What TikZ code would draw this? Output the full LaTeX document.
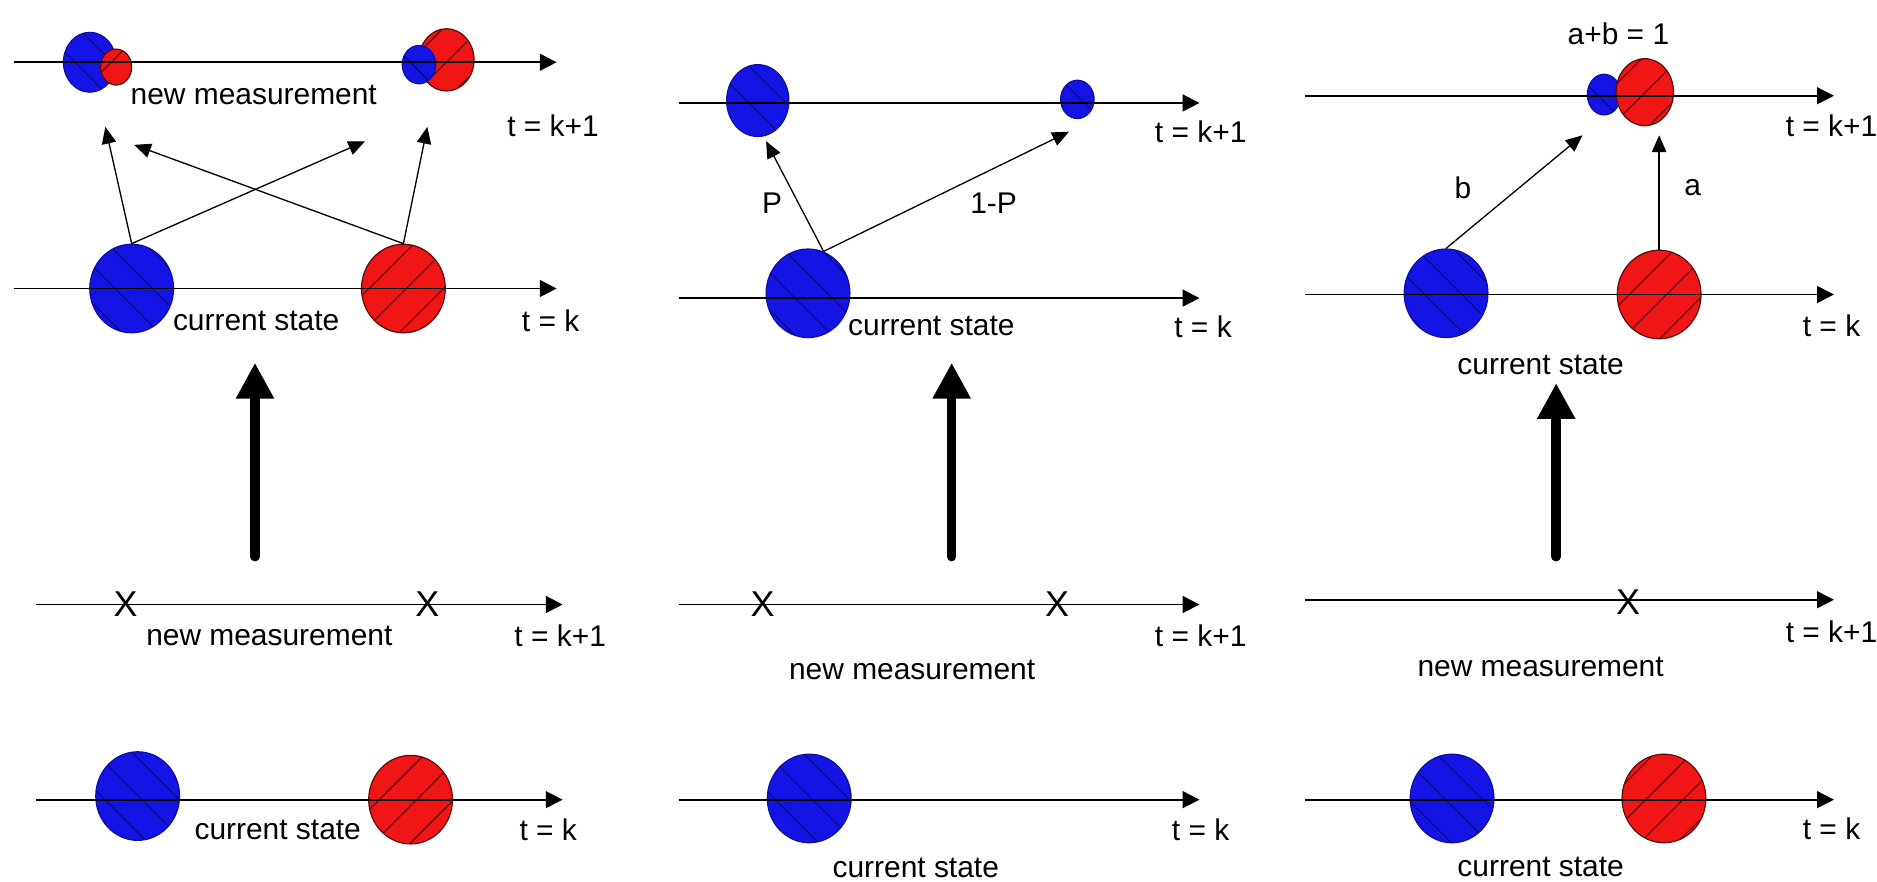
\documentclass[tikz,border=0pt]{standalone}
\usepackage{fontspec}
\setmainfont{Liberation Sans}
\usetikzlibrary{arrows.meta,shapes.geometric,patterns.meta}
\definecolor{bl}{RGB}{20,20,228}
\definecolor{bldk}{RGB}{10,10,120}
\definecolor{rd}{RGB}{240,22,22}
\definecolor{rddk}{RGB}{90,10,10}
\begin{document}
\begin{tikzpicture}[x=0.5pt,y=-0.5pt,
  axis/.style={line width=0.8pt,-{Triangle[length=7pt,width=7pt]}},
  conn/.style={line width=0.55pt,-{Triangle[length=7pt,width=6pt]}},
  bigarrow/.style={line width=4pt,line cap=round,-{Triangle[length=15pt,width=15pt]}},
  sz/.style 2 args={minimum width=#1pt,minimum height=#2pt},
  bc/.style={ellipse,inner sep=0pt,draw=bldk!60!bl,line width=0.5pt,fill=bl,
    postaction={pattern={Lines[angle=-45,distance=11pt,line width=0.45pt]},pattern color=bldk}},
  rc/.style={ellipse,inner sep=0pt,draw=rddk,line width=0.5pt,fill=rd,
    postaction={pattern={Lines[angle=45,distance=11pt,line width=0.45pt]},pattern color=rddk}},
  lab/.style={font=\fontsize{12.5}{14}\selectfont,inner sep=0pt},
  xm/.style={font=\fontsize{15}{16}\selectfont,inner sep=0pt}]
\useasboundingbox (0,0) rectangle (1568,736);

% ================= Panel 1 =================
% upper: t = k+1 with predicted states
\node[bc,sz={22}{25}] (p1ub1) at (75,52) {};
\node[rc,sz={13}{15}] (p1ur1) at (97,56) {};
\node[rc,sz={23}{26}] (p1ur2) at (373,50) {};
\node[bc,sz={14}{16}] (p1ub2) at (350,54) {};
\coordinate (p1a0) at (12,52);  \coordinate (p1a1) at (465,52);
\draw[axis] (p1a0) -- (p1a1);
\node[lab] (p1t1) at (462,105) {t = k+1};
\node[lab] (p1nm) at (212,79) {new measurement};
% current state
\node[bc,sz={35}{37}] (p1b) at (110,241) {};
\node[rc,sz={35}{37}] (p1r) at (337,241) {};
\coordinate (p1b0) at (12,241); \coordinate (p1b1) at (465,241);
\draw[axis] (p1b0) -- (p1b1);
\node[lab] (p1t0) at (460,268) {t = k};
\node[lab] (p1cs) at (214,268) {current state};
% transitions
\coordinate (p1e1) at (88,106);
\coordinate (p1e2) at (305,118);
\coordinate (p1e3) at (112,121);
\coordinate (p1e4) at (357,106);
\draw[conn] (p1b.north) -- (p1e1);
\draw[conn] (p1b.north) -- (p1e2);
\draw[conn] (p1r.north) -- (p1e3);
\draw[conn] (p1r.north) -- (p1e4);
% big arrow
\coordinate (p1s) at (213,465); \coordinate (p1f) at (213,303);
\draw[bigarrow] (p1s) -- (p1f);
% lower: measurement
\coordinate (p1m0) at (30,505); \coordinate (p1m1) at (470,505);
\draw[axis] (p1m0) -- (p1m1);
\node[xm] (p1x1) at (105,505) {X};
\node[xm] (p1x2) at (357,505) {X};
\node[lab] (p1mn) at (225,531) {new measurement};
\node[lab] (p1mt) at (468,531) {t = k+1};
% lower: current state
\node[bc,sz={35}{37}] (p1cb) at (115,665) {};
\node[rc,sz={35}{37}] (p1cr) at (343,668) {};
\coordinate (p1c0) at (30,668); \coordinate (p1c1) at (470,668);
\draw[axis] (p1c0) -- (p1c1);
\node[lab] (p1cl) at (232,693) {current state};
\node[lab] (p1ct) at (458,693) {t = k};

% ================= Panel 2 =================
\node[bc,sz={26}{30}] (p2ub1) at (633,84) {};
\node[bc,sz={14}{16}] (p2ub2) at (900,83) {};
\coordinate (p2a0) at (567,86); \coordinate (p2a1) at (1002,86);
\draw[axis] (p2a0) -- (p2a1);
\node[lab] (p2t1) at (1003,110) {t = k+1};
\node[bc,sz={35}{37}] (p2b) at (675,245) {};
\coordinate (p2b0) at (567,249); \coordinate (p2b1) at (1002,249);
\draw[axis] (p2b0) -- (p2b1);
\node[lab] (p2t0) at (1005,273) {t = k};
\node[lab] (p2cs) at (778,272) {current state};
\coordinate (p2o) at (688,210);
\coordinate (p2e1) at (640,118);
\coordinate (p2e2) at (893,110);
\draw[conn] (p2o) -- (p2e1);
\draw[conn] (p2o) -- (p2e2);
\node[lab] (p2P) at (645,170) {P};
\node[lab] (p2Q) at (830,170) {1-P};
\coordinate (p2s) at (795,465); \coordinate (p2f) at (795,303);
\draw[bigarrow] (p2s) -- (p2f);
\coordinate (p2m0) at (567,505); \coordinate (p2m1) at (1002,505);
\draw[axis] (p2m0) -- (p2m1);
\node[xm] (p2x1) at (637,505) {X};
\node[xm] (p2x2) at (883,505) {X};
\node[lab] (p2mt) at (1003,531) {t = k+1};
\node[lab] (p2mn) at (762,560) {new measurement};
\node[bc,sz={35}{37}] (p2cb) at (676,667) {};
\coordinate (p2c0) at (567,668); \coordinate (p2c1) at (1002,668);
\draw[axis] (p2c0) -- (p2c1);
\node[lab] (p2ct) at (1003,693) {t = k};
\node[lab] (p2cl) at (765,725) {current state};

% ================= Panel 3 =================
\node[lab] (p3sum) at (1352,28) {a+b = 1};
\node[bc,sz={14}{17}] (p3ub) at (1340,79) {};
\node[rc,sz={24}{28}] (p3ur) at (1374,77) {};
\coordinate (p3a0) at (1090,80); \coordinate (p3a1) at (1532,80);
\draw[axis] (p3a0) -- (p3a1);
\node[lab] (p3t1) at (1530,105) {t = k+1};
\node[bc,sz={35}{37}] (p3b) at (1208,245) {};
\node[rc,sz={35}{37}] (p3r) at (1386,246) {};
\coordinate (p3b0) at (1090,246); \coordinate (p3b1) at (1532,246);
\draw[axis] (p3b0) -- (p3b1);
\node[lab] (p3t0) at (1530,272) {t = k};
\node[lab] (p3cs) at (1287,305) {current state};
\coordinate (p3e1) at (1322,113);
\coordinate (p3e2) at (1386,113);
\draw[conn] (p3b.north) -- (p3e1);
\draw[conn] (p3r.north) -- (p3e2);
\node[lab] (p3lb) at (1222,157) {b};
\node[lab] (p3la) at (1414,157) {a};
\coordinate (p3s) at (1300,465); \coordinate (p3f) at (1300,320);
\draw[bigarrow] (p3s) -- (p3f);
\coordinate (p3m0) at (1090,501); \coordinate (p3m1) at (1532,501);
\draw[axis] (p3m0) -- (p3m1);
\node[xm] (p3x1) at (1360,503) {X};
\node[lab] (p3mt) at (1530,528) {t = k+1};
\node[lab] (p3mn) at (1287,557) {new measurement};
\node[bc,sz={35}{37}] (p3cb) at (1213,667) {};
\node[rc,sz={35}{37}] (p3cr) at (1390,667) {};
\coordinate (p3c0) at (1090,668); \coordinate (p3c1) at (1532,668);
\draw[axis] (p3c0) -- (p3c1);
\node[lab] (p3ct) at (1530,692) {t = k};
\node[lab] (p3cl) at (1287,724) {current state};
\end{tikzpicture}
\end{document}
